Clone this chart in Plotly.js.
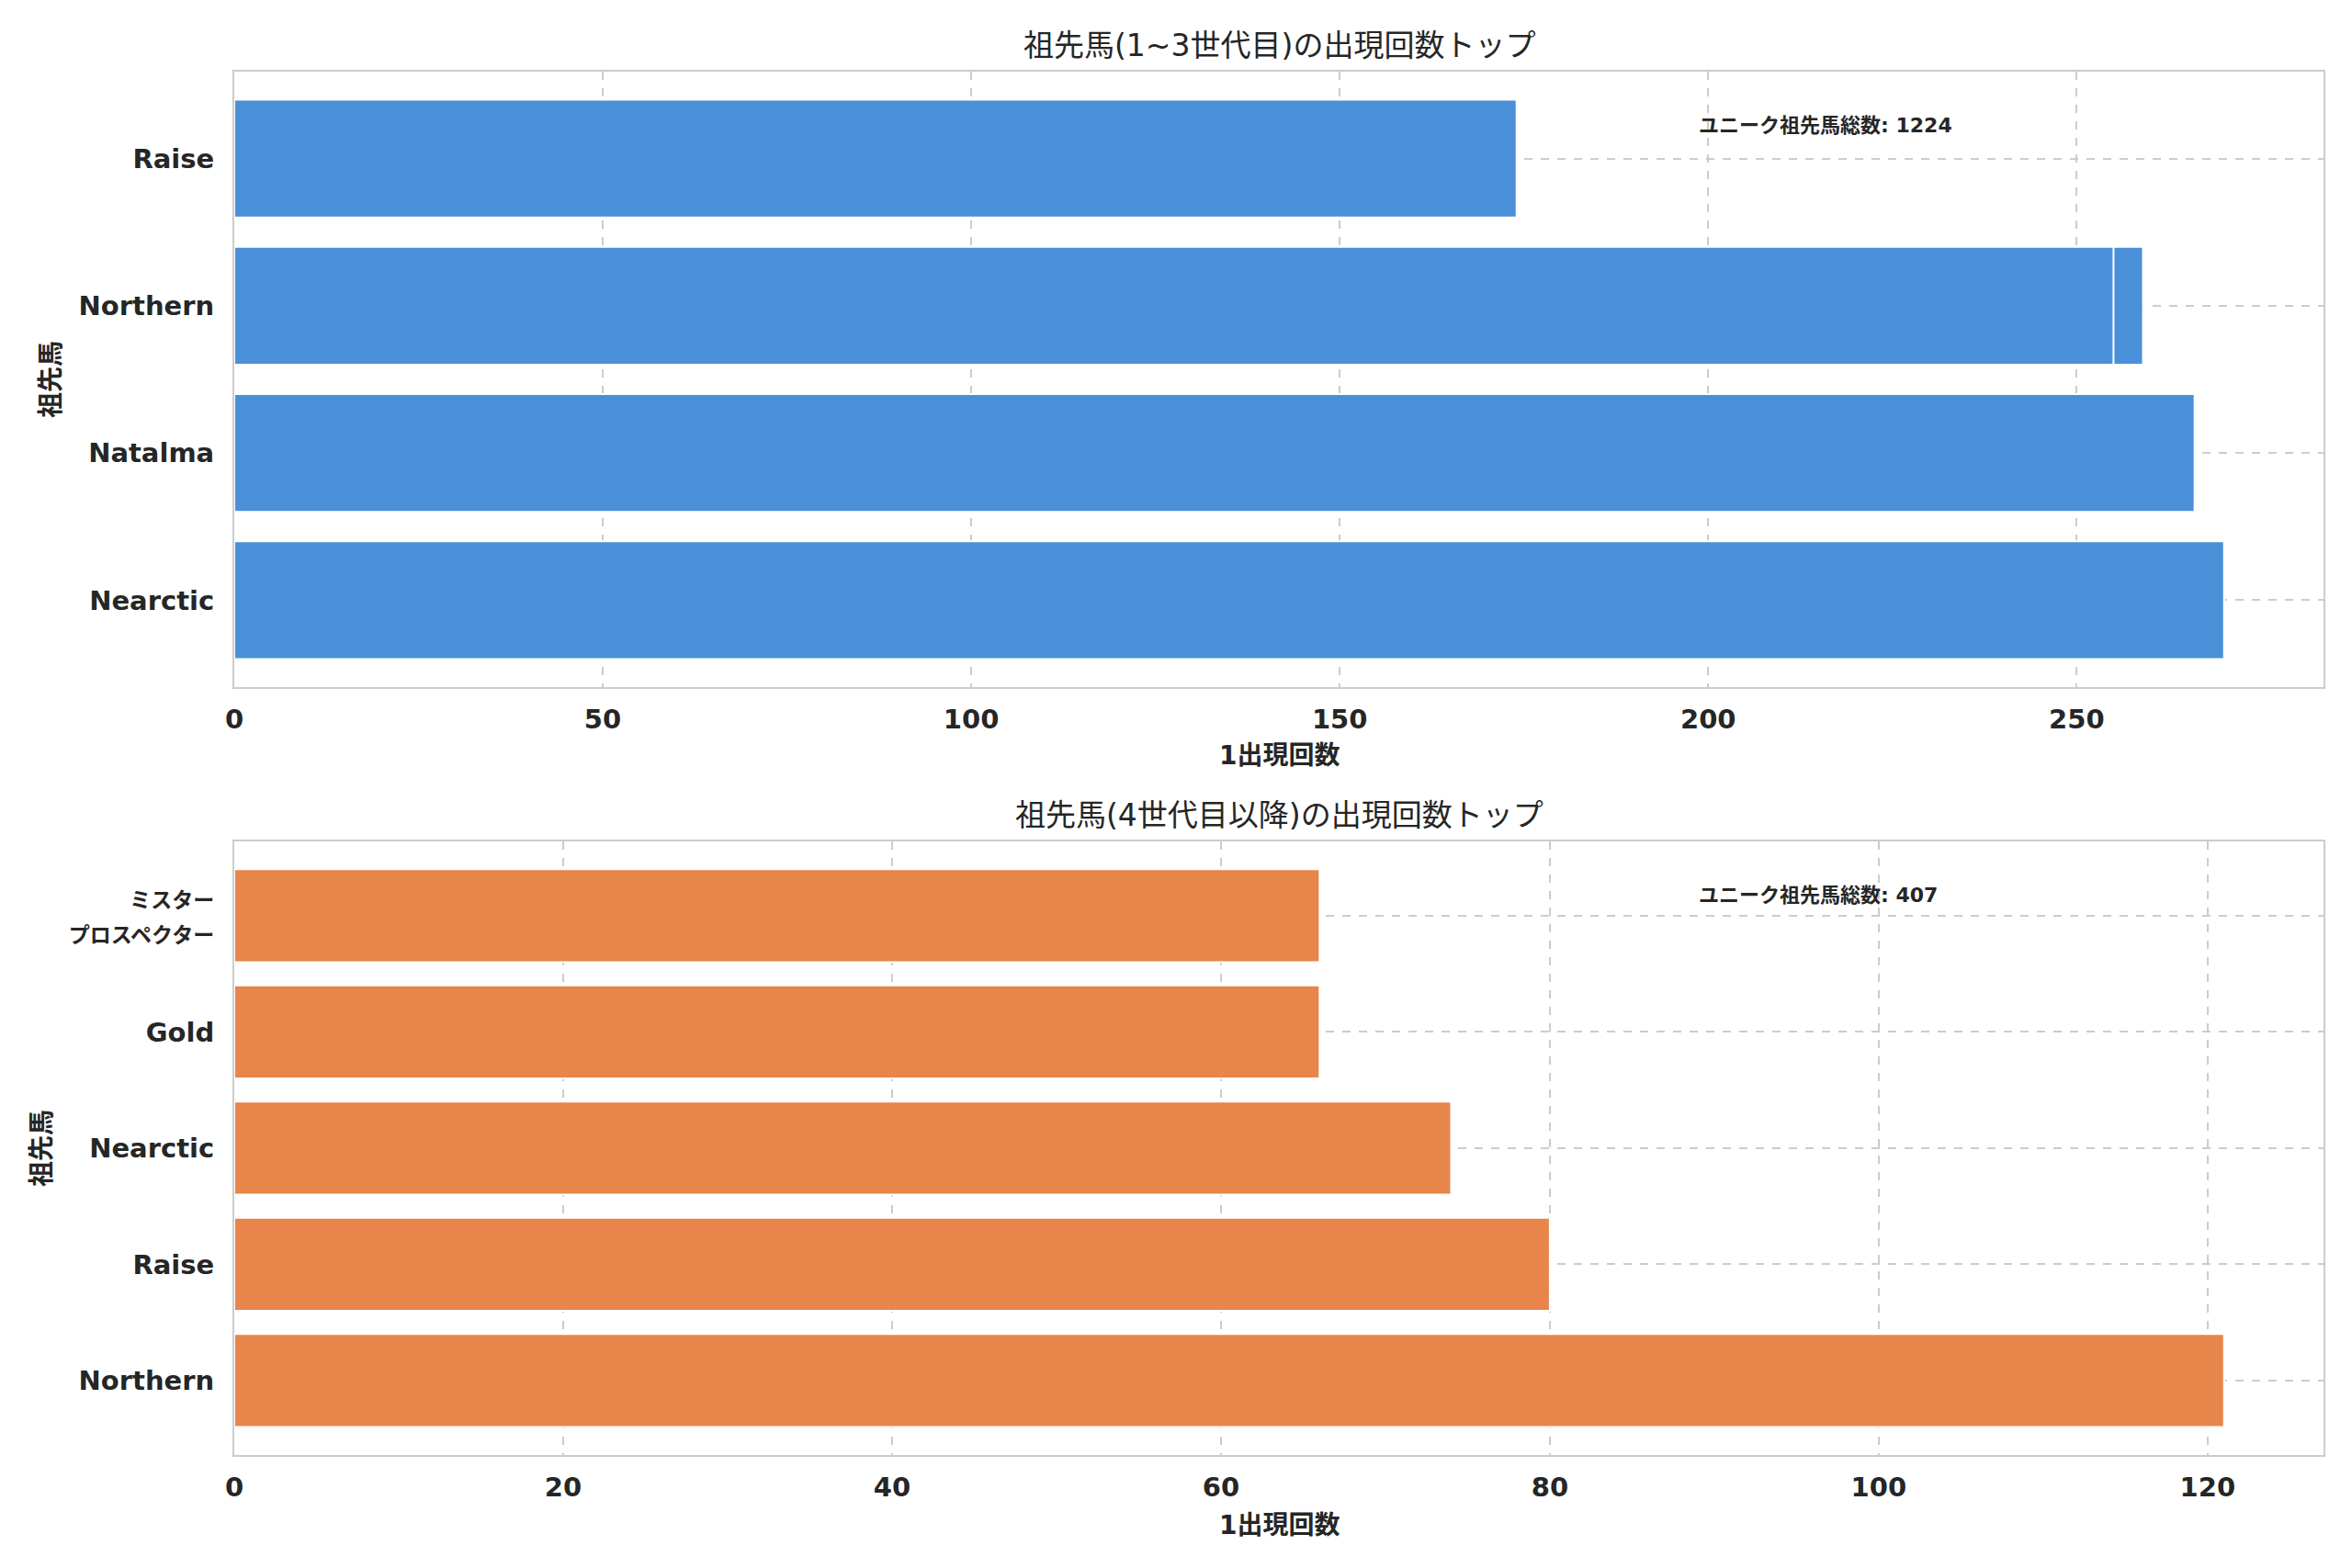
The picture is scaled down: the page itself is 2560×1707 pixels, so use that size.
<!DOCTYPE html>
<html>
<head>
<meta charset="utf-8">
<script src="https://cdn.plot.ly/plotly-3.0.1.min.js"></script>
<style>
  html, body { margin: 0; padding: 0; background: #ffffff; }
  #chart { width: 2560px; height: 1707px; }
</style>
</head>
<body>
<div id="chart"></div>
<script>
// top panel: ancestors in generations 1-3 (Northern appears twice, the names got cut to one word)
var nearNames = ["Nearctic", "Natalma", "Northern", "Northern", "Raise"];
var nearCounts = [270, 266, 259, 255, 174];
var nearTotal = 1224;

// bottom panel: generation 4 and beyond
var farNames = ["Northern", "Raise", "Nearctic", "Gold", "ミスタープロスペクター"];
var farCounts = [121, 80, 74, 66, 66];
var farTotal = 407;

var titleTop = "祖先馬(1~3世代目)の出現回数トップ";
var titleBottom = "祖先馬(4世代目以降)の出現回数トップ";
var xLabel = "1出現回数";
var yLabel = "祖先馬";
var totalLabel = "ユニーク祖先馬総数";

var FONT = "DejaVu Sans, 'Noto Sans CJK JP', sans-serif";
var INK = "#262626";
var GRID = "#cccccc";

// long katakana names do not fit beside the axis, so they go on two smaller lines
function tickName(name) {
  if (name.length <= 10) return name;
  return "<span style='font-size:23px'>" + name.slice(0, 4) + "</span><br>" +
         "<span style='font-size:23px'>" + name.slice(4) + "</span>";
}

var data = [
  {
    type: "bar", orientation: "h",
    x: nearCounts, y: nearNames,
    width: 0.8,
    marker: {color: "#4a90d9", line: {color: "#ffffff", width: 2}},
    xaxis: "x", yaxis: "y",
    hoverinfo: "skip"
  },
  {
    type: "bar", orientation: "h",
    x: farCounts, y: farNames,
    width: 0.8,
    marker: {color: "#e8854b", line: {color: "#ffffff", width: 2}},
    xaxis: "x2", yaxis: "y2",
    hoverinfo: "skip"
  }
];

function xAxis(domain, maxVal, dtick, anchor) {
  return {
    domain: domain, anchor: anchor,
    range: [0, maxVal * 1.05],
    dtick: dtick,
    showgrid: true, gridcolor: GRID, gridwidth: 2, griddash: "dash",
    zeroline: false,
    showline: true, mirror: true, linecolor: GRID, linewidth: 2,
    ticks: "", ticklabelstandoff: 8,
    tickfont: {family: FONT, size: 29, color: INK, weight: "bold"},
    layer: "below traces"
  };
}

function yAxis(domain, names, anchor) {
  var cats = names.filter(function (v, i) { return names.indexOf(v) === i; });
  var n = cats.length;
  return {
    domain: domain, anchor: anchor,
    type: "category", categoryorder: "trace",
    tickvals: cats, ticktext: cats.map(tickName),
    range: [-0.4 - 0.05 * (n - 0.2), n - 0.6 + 0.05 * (n - 0.2)],
    showgrid: true, gridcolor: GRID, gridwidth: 2, griddash: "dash",
    zeroline: false,
    showline: true, mirror: true, linecolor: GRID, linewidth: 2,
    ticks: "", ticklabelstandoff: 14,
    tickfont: {family: FONT, size: 29, color: INK, weight: "bold"},
    layer: "below traces"
  };
}

var xd = [0.0996, 0.9879];
var topDom = [0.5618, 0.9543];
var botDom = [0.0721, 0.4634];
var xMid = (xd[0] + xd[1]) / 2;

function label(text, x, y, size, bold, angle) {
  return {
    text: text, xref: "paper", yref: "paper", x: x, y: y,
    xanchor: "center", yanchor: "middle", textangle: angle || 0,
    showarrow: false,
    font: {family: FONT, size: size, color: INK, weight: bold ? "bold" : "normal"}
  };
}

var layout = {
  width: 2560, height: 1707,
  margin: {l: 0, r: 0, t: 0, b: 0},
  paper_bgcolor: "#ffffff", plot_bgcolor: "#ffffff",
  showlegend: false,
  barmode: "overlay",
  xaxis: xAxis(xd, nearCounts[0], 50, "y"),
  yaxis: yAxis(topDom, nearNames, "x"),
  xaxis2: xAxis(xd, farCounts[0], 20, "y2"),
  yaxis2: yAxis(botDom, farNames, "x2"),
  annotations: [
    label(titleTop, xMid, 1 - 49 / 1707, 33, false),
    label(titleBottom, xMid, 1 - 887 / 1707, 33, false),
    label(xLabel, xMid, 1 - 822 / 1707, 28, true),
    label(xLabel, xMid, 1 - 1660 / 1707, 28, true),
    label(yLabel, 55 / 2560, (topDom[0] + topDom[1]) / 2, 28, true, -90),
    label(yLabel, 46 / 2560, (botDom[0] + botDom[1]) / 2, 28, true, -90),
    {text: totalLabel + ": " + nearTotal, xref: "x domain", yref: "y domain", x: 0.7, y: 0.912,
     xanchor: "left", yanchor: "middle", showarrow: false,
     font: {family: FONT, size: 22, color: INK, weight: "bold"}},
    {text: totalLabel + ": " + farTotal, xref: "x2 domain", yref: "y2 domain", x: 0.7, y: 0.912,
     xanchor: "left", yanchor: "middle", showarrow: false,
     font: {family: FONT, size: 22, color: INK, weight: "bold"}}
  ]
};

Plotly.newPlot("chart", data, layout, {staticPlot: true, displayModeBar: false});
</script>
</body>
</html>
